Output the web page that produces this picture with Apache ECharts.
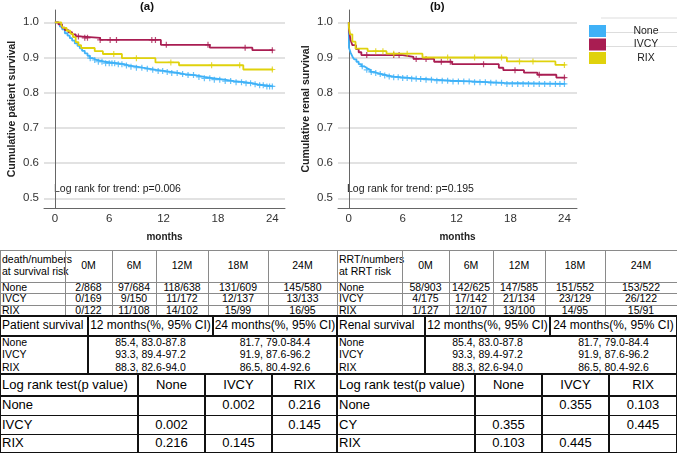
<!DOCTYPE html>
<html>
<head>
<meta charset="utf-8">
<script src="https://cdn.jsdelivr.net/npm/echarts@6/dist/echarts.min.js"></script>
<style>
body{margin:0;background:#fff;}
#wrap{position:relative;width:677px;height:453px;overflow:hidden;font-family:"Liberation Sans",Arial,sans-serif;background:#fff;}
#chart{position:absolute;left:0;top:0;width:677px;height:248px;}
.cell{position:absolute;box-sizing:border-box;display:flex;align-items:center;color:#000;white-space:nowrap;line-height:1.12;}
.ln{position:absolute;}
</style>
</head>
<body>
<div id="wrap"><div id="chart"></div></div>
<script>
// groups + colours
var groups = ['None', 'IVCY', 'RIX'];
var colors = ['#3FB1F7', '#A91D52', '#E0D20C'];
var monthTicks = [0, 6, 12, 18, 24];
var survTicks = [0.5, 0.6, 0.7, 0.8, 0.9, 1.0];

// (a) patient survival, step points [month, survival]
var patientNone = [[0,1],[0.3,0.995],[0.55,0.988],[0.8,0.98],[1.1,0.969],[1.4,0.962],[1.65,0.955],[1.9,0.948],[2.2,0.94],[2.5,0.933],[2.75,0.926],[3.0,0.919],[3.3,0.912],[3.6,0.905],[3.85,0.898],[4.2,0.893],[4.6,0.888],[5.5,0.884],[6.8,0.881],[7.6,0.877],[8.3,0.874],[9.0,0.871],[9.7,0.868],[10.5,0.865],[11.2,0.862],[12.0,0.859],[12.8,0.856],[13.6,0.853],[14.3,0.85],[15.4,0.845],[16.5,0.841],[17.6,0.837],[18.7,0.833],[19.8,0.83],[20.9,0.827],[21.7,0.824],[22.4,0.821],[23.3,0.818],[24.1,0.818]];
var patientIVCY = [[0,1],[0.4,0.994],[0.8,0.985],[1.1,0.978],[1.5,0.972],[1.9,0.966],[2.3,0.96],[2.7,0.956],[5.0,0.95],[11.7,0.936],[17.1,0.928],[21.8,0.921],[24.1,0.921]];
var patientRIX = [[0,1],[0.7,0.992],[0.9,0.984],[1.3,0.976],[1.7,0.968],[2.0,0.958],[2.3,0.944],[2.6,0.935],[2.9,0.927],[4.4,0.918],[5.3,0.91],[7.4,0.898],[11.1,0.886],[13.7,0.878],[20.8,0.866],[24.1,0.866]];
// censored times (a)
var patientNoneCens = [3.9,4.4,4.8,5.2,5.6,6.0,6.3,6.6,7.0,7.4,7.9,8.4,9.0,9.6,10.2,10.8,11.4,11.9,12.4,12.9,13.5,14.1,14.7,15.3,15.9,16.5,17.1,17.6,18.2,18.8,19.4,20.0,20.6,21.1,21.6,22.1,22.6,23.0,23.4,23.7,24.0];
var patientIVCYCens = [2.6,3.3,3.6,5.0,6.1,6.8,10.7,11.1,12.3,16.9,21.0,24.0];
var patientRIXCens = [6.5,9.0,12.8,17.3,20.4,24.0];

// (b) renal survival
var renalNone = [[0,1],[0.02,0.928],[0.2,0.914],[0.4,0.903],[0.6,0.895],[0.85,0.888],[1.1,0.881],[1.4,0.875],[1.7,0.87],[2.0,0.865],[2.4,0.859],[2.8,0.856],[3.2,0.853],[3.7,0.849],[4.3,0.846],[5.0,0.844],[5.8,0.842],[6.7,0.84],[7.6,0.839],[8.5,0.837],[9.5,0.834],[11.4,0.832],[13.5,0.83],[15.5,0.828],[17.3,0.825],[24.1,0.825]];
var renalIVCY = [[0,1],[0.02,0.977],[0.2,0.95],[0.4,0.935],[0.8,0.924],[1.1,0.915],[1.4,0.907],[6.0,0.902],[7.2,0.896],[9.5,0.888],[11.5,0.881],[16.7,0.871],[17.2,0.864],[19.5,0.857],[21.0,0.851],[23.1,0.843],[24.1,0.843]];
var renalRIX = [[0,1],[0.02,0.985],[0.15,0.966],[0.4,0.945],[0.75,0.925],[2.1,0.918],[4.2,0.911],[8.2,0.9],[17.6,0.889],[23.0,0.879],[24.1,0.879]];
var renalNoneCens = [1.5,2.0,2.5,3.0,3.5,4.0,4.5,5.0,5.5,6.0,6.5,7.0,7.5,8.0,8.6,9.2,9.8,10.4,11.0,11.6,12.2,12.8,13.4,14.0,14.6,15.2,15.8,16.4,17.0,17.6,18.2,18.8,19.4,20.0,20.6,21.2,21.8,22.4,23.0,23.5,24.0];
var renalIVCYCens = [2.0,5.0,5.6,7.5,8.6,10.3,11.3,15.0,18.5,21.2,24.0];
var renalRIXCens = [3.0,3.8,5.0,6.5,11.0,14.0,17.0,19.0,20.5,24.0];

var logRankA = 'Log rank for trend: p=0.006';
var logRankB = 'Log rank for trend: p=0.195';

// tables
var riskCols = ['0M', '6M', '12M', '18M', '24M'];
var deathNone = ['2/868', '97/684', '118/638', '131/609', '145/580'];
var deathIVCY = ['0/169', '9/150', '11/172', '12/137', '13/133'];
var deathRIX = ['0/122', '11/108', '14/102', '15/99', '16/95'];
var rrtNone = ['58/903', '142/625', '147/585', '151/552', '153/522'];
var rrtIVCY = ['4/175', '17/142', '21/134', '23/129', '26/122'];
var rrtRIX = ['1/127', '12/107', '13/100', '14/95', '15/91'];
var survCols = ['12 months(%, 95% CI)', '24 months(%, 95% CI)'];
var patientSurvNone = ['85.4, 83.0-87.8', '81.7, 79.0-84.4'];
var patientSurvIVCY = ['93.3, 89.4-97.2', '91.9, 87.6-96.2'];
var patientSurvRIX = ['88.3, 82.6-94.0', '86.5, 80.4-92.6'];
var renalSurvNone = ['85.4, 83.0-87.8', '81.7, 79.0-84.4'];
var renalSurvIVCY = ['93.3, 89.4-97.2', '91.9, 87.6-96.2'];
var renalSurvRIX = ['88.3, 82.6-94.0', '86.5, 80.4-92.6'];
var pRowsA = ['None', 'IVCY', 'RIX'];
var pNoneA = ['', '0.002', '0.216'];
var pIVCYA = ['0.002', '', '0.145'];
var pRIXA = ['0.216', '0.145', ''];
var pRowsB = ['None', 'CY', 'RIX'];
var pNoneB = ['', '0.355', '0.103'];
var pIVCYB = ['0.355', '', '0.445'];
var pRIXB = ['0.103', '0.445', ''];

// survival value at time t from step list
function stepAt(steps, t) {
	var v = steps[0][1];
	for (var i = 0; i < steps.length; i++) {
		if (steps[i][0] <= t) v = steps[i][1];
	}
	return v;
}

var plus = 'path://M4,0h2v10h-2zM0,4h10v2h-10z';

function panel(idx, steps, cens) {
	var out = [];
	for (var g = 0; g < 3; g++) {
		out.push({
			name: groups[g], type: 'line', step: 'end', xAxisIndex: idx, yAxisIndex: idx,
			showSymbol: false, data: steps[g], z: 3 + g,
			lineStyle: { color: colors[g], width: 1.8 }, itemStyle: { color: colors[g] }
		});
		out.push({
			name: groups[g], type: 'scatter', xAxisIndex: idx, yAxisIndex: idx,
			symbol: plus, symbolSize: 6, z: 3 + g,
			itemStyle: { color: colors[g] },
			data: cens[g].map(function (t) { return [t, stepAt(steps[g], t)]; })
		});
	}
	return out;
}

function xAx(idx, name) {
	return {
		type: 'value', gridIndex: idx, min: -1.2, max: 25.4,
		name: name, nameLocation: 'middle', nameGap: 24,
		nameTextStyle: { fontWeight: 'bold', fontSize: 10, color: '#222' },
		axisLine: { lineStyle: { color: '#666', width: 1 } },
		axisTick: { show: false, customValues: monthTicks },
		axisLabel: { customValues: monthTicks, color: '#333', fontSize: 11.5, margin: 5 },
		splitLine: { show: false }
	};
}
function yAx(idx, name) {
	return {
		type: 'value', gridIndex: idx, min: 0.4725, max: 1.035,
		name: name, nameLocation: 'middle', nameGap: 26,
		nameTextStyle: { fontWeight: 'bold', fontSize: 10.5, color: '#222' },
		axisLine: { show: true, lineStyle: { color: '#666', width: 1 } },
		axisTick: { show: false, customValues: survTicks },
		axisLabel: { customValues: survTicks, color: '#333', fontSize: 11.5, margin: 5,
			formatter: function (v) { return v.toFixed(1); } },
		splitLine: { show: true, lineStyle: { color: '#d8d8d8', width: 1.5 } }
	};
}

var myChart = echarts.init(document.getElementById('chart'), null, { renderer: 'canvas' });
var option = {
	animation: false,
	backgroundColor: '#fff',
	textStyle: { fontFamily: 'Liberation Sans, Arial, sans-serif' },
	grid: [
		{ left: 44, top: 10, width: 241, height: 198 },
		{ left: 338, top: 10, width: 239, height: 198 }
	],
	xAxis: [xAx(0, 'months'), xAx(1, 'months')],
	yAxis: [yAx(0, 'Cumulative patient survival'), yAx(1, 'Cumulative renal survival')],
	legend: {
		data: groups, orient: 'vertical', left: 584, top: 20, itemGap: 1.5,
		icon: 'rect', itemWidth: 17, itemHeight: 12,
		formatter: function (n) { return '{c|' + n + '}'; },
		textStyle: { color: '#222', fontSize: 10.5, rich: { c: { width: 70, align: 'center', fontSize: 10.5, color: '#222' } } }
	},
	graphic: [
		{ type: 'text', left: 140, top: 1, style: { text: '(a)', font: 'bold 11.5px Liberation Sans', fill: '#111' } },
		{ type: 'text', left: 430, top: 1, style: { text: '(b)', font: 'bold 11.5px Liberation Sans', fill: '#111' } },
		{ type: 'text', left: 54, top: 184, style: { text: logRankA, font: '10.5px Liberation Sans', fill: '#222' } },
		{ type: 'text', left: 347, top: 184, style: { text: logRankB, font: '10.5px Liberation Sans', fill: '#222' } },
		{ type: 'line', shape: { x1: 601, y1: 18, x2: 677, y2: 18 }, style: { stroke: '#ddd', lineWidth: 1 } },
		{ type: 'line', shape: { x1: 601, y1: 32.5, x2: 677, y2: 32.5 }, style: { stroke: '#ddd', lineWidth: 1 } },
		{ type: 'line', shape: { x1: 601, y1: 46.5, x2: 677, y2: 46.5 }, style: { stroke: '#ddd', lineWidth: 1 } }
	],
	series: panel(0, [patientNone, patientIVCY, patientRIX], [patientNoneCens, patientIVCYCens, patientRIXCens])
		.concat(panel(1, [renalNone, renalIVCY, renalRIX], [renalNoneCens, renalIVCYCens, renalRIXCens]))
};
myChart.setOption(option);

// ---- tables (html) ----
var wrap = document.getElementById('wrap');
function line(x, y, w, h, col) {
	var d = document.createElement('div');
	d.className = 'ln';
	d.style.cssText = 'left:' + x + 'px;top:' + y + 'px;width:' + w + 'px;height:' + h + 'px;background:' + col + ';';
	wrap.appendChild(d);
}
// cols / rows are boundaries, cells[r][c] text
function table(x0, cols, rows, cells, fonts, border, bw, hLines, vLines) {
	for (var r = 0; r < rows.length - 1; r++) {
		for (var c = 0; c < cols.length - 1; c++) {
			var d = document.createElement('div');
			d.className = 'cell';
			d.style.left = (x0 + cols[c]) + 'px';
			d.style.top = rows[r] + 'px';
			d.style.width = (cols[c + 1] - cols[c]) + 'px';
			d.style.height = (rows[r + 1] - rows[r]) + 'px';
			d.style.fontSize = fonts[r] + 'px';
			d.style.justifyContent = c === 0 ? 'flex-start' : 'center';
			d.style.paddingLeft = c === 0 ? '2px' : '0';
			d.innerHTML = cells[r][c];
			wrap.appendChild(d);
		}
	}
	hLines.forEach(function (r) { line(x0 + cols[0], rows[r] - bw / 2, cols[cols.length - 1] - cols[0], bw, border); });
	vLines.forEach(function (v) {
		line(x0 + cols[v[0]] - bw / 2, rows[v[1]], bw, rows[v[2]] - rows[v[1]], border);
	});
}

var riskX = [0, 65, 112, 156, 208, 268, 337];
var riskY = [250, 282, 293.5, 305, 316];
var survX = [0, 88, 213, 337];
var survY = [316, 336, 349, 361.5, 374];
var lrX = [0, 138, 205, 272, 337];
var lrY = [374, 396, 415.5, 434.5, 453];

function riskTable(x0, head, a, b, c, w) {
	var xs = riskX.slice(); xs[6] = w;
	table(x0, xs, riskY, [
		[head].concat(riskCols),
		['None'].concat(a), ['IVCY'].concat(b), ['RIX'].concat(c)
	], [10.5, 10.5, 10.5, 10.5], '#8a8a8a', 1, [0, 1, 2, 3, 4],
	[[0, 0, 4], [1, 0, 4], [2, 0, 4], [3, 0, 4], [4, 0, 4], [5, 0, 4], [6, 0, 4]]);
}
function survTable(x0, head, a, b, c, w) {
	var xs = survX.slice(); xs[3] = w;
	table(x0, xs, survY, [
		[head].concat(survCols),
		['None'].concat(a), ['IVCY'].concat(b), ['RIX'].concat(c)
	], [12, 10.5, 10.5, 10.5], '#111', 1.5, [0, 1, 4],
	[[0, 0, 4], [1, 0, 4], [2, 0, 1], [3, 0, 4]]);
}
function lrTable(x0, rowsLab, a, b, c, w) {
	var xs = lrX.slice(); xs[4] = w;
	table(x0, xs, lrY, [
		['Log rank test(p value)'].concat(groups),
		[rowsLab[0]].concat(a), [rowsLab[1]].concat(b), [rowsLab[2]].concat(c)
	], [13, 13, 13, 13], '#111', 1.5, [0, 1, 2, 3, 4],
	[[0, 0, 4], [1, 0, 4], [2, 0, 4], [3, 0, 4], [4, 0, 4]]);
}

riskTable(0, 'death/numbers<br>at survival risk', deathNone, deathIVCY, deathRIX, 337);
riskTable(337, 'RRT/numbers<br>at RRT risk', rrtNone, rrtIVCY, rrtRIX, 340);
survTable(0, 'Patient survival', patientSurvNone, patientSurvIVCY, patientSurvRIX, 337);
survTable(337, 'Renal survival', renalSurvNone, renalSurvIVCY, renalSurvRIX, 340);
lrTable(0, pRowsA, pNoneA, pIVCYA, pRIXA, 337);
lrTable(337, pRowsB, pNoneB, pIVCYB, pRIXB, 340);
</script>
</body>
</html>
